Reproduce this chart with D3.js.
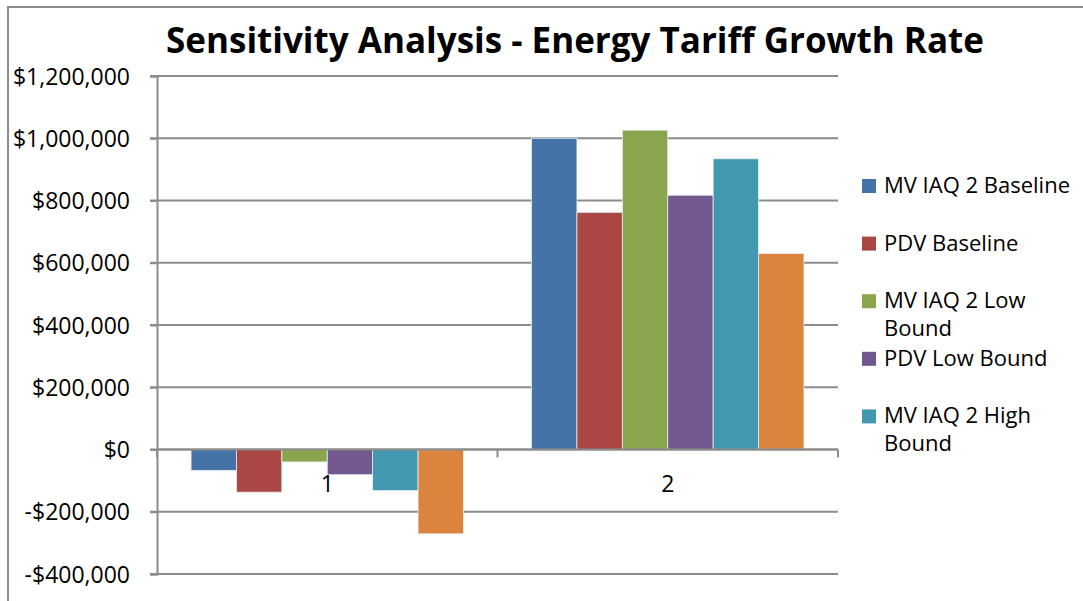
<!DOCTYPE html>
<html>
<head>
<meta charset="utf-8">
<script src="https://cdn.jsdelivr.net/npm/d3@7"></script>
<style>
  body { margin: 0; background: #fff; }
  text { font-family: "Open Sans", "Noto Sans", sans-serif; fill: #000; }
</style>
</head>
<body>
<div id="chart"></div>
<script>
// Data
const categories = ["1", "2"];
const seriesNames = ["MV IAQ 2 Baseline", "PDV Baseline", "MV IAQ 2 Low Bound", "PDV Low Bound", "MV IAQ 2 High Bound", "PDV High Bound"];
const cat1Values = [-67000, -137000, -40000, -81000, -132000, -271000];
const cat2Values = [1000000, 762000, 1026000, 817000, 934000, 630000];
const yTicks = [-400000, -200000, 0, 200000, 400000, 600000, 800000, 1000000, 1200000];
const colors = ["#4572A7", "#AA4643", "#89A54E", "#71588F", "#4198AF", "#DB843D"];

const W = 1083, H = 601;
const plot = {left: 157, right: 838, top: 76, bottom: 574};

const svg = d3.select("#chart").append("svg")
  .attr("width", W).attr("height", H);

// chart border (clipped on right/bottom like the original)
svg.append("rect")
  .attr("x", 8).attr("y", 7)
  .attr("width", W + 20).attr("height", H + 20)
  .attr("fill", "none").attr("stroke", "#8c8c8c").attr("stroke-width", 2);

// title
svg.append("text")
  .attr("x", 575).attr("y", 53)
  .attr("text-anchor", "middle")
  .style("font-size", "35px").style("font-weight", "bold")
  .text("Sensitivity Analysis - Energy Tariff Growth Rate");

const y = d3.scaleLinear()
  .domain([d3.min(yTicks), d3.max(yTicks)])
  .range([plot.bottom, plot.top]);

const x0 = d3.scaleBand()
  .domain(categories)
  .range([plot.left, plot.right]);

// Excel gap width 150% -> outer padding of 0.75 bar on each side
const barW = x0.bandwidth() / (seriesNames.length + 1.5);
const x1 = d3.scaleBand()
  .domain(seriesNames)
  .range([0.75 * barW, 0.75 * barW + barW * seriesNames.length]);

// gridlines
svg.append("g")
  .selectAll("line")
  .data(yTicks)
  .join("line")
  .attr("x1", plot.left - 7).attr("x2", plot.right)
  .attr("y1", d => y(d)).attr("y2", d => y(d))
  .attr("stroke", "#8c8c8c").attr("stroke-width", 2);

// y axis
const yAxis = svg.append("g")
  .attr("transform", `translate(${plot.left},0)`)
  .call(d3.axisLeft(y).tickValues(yTicks).tickSize(7).tickPadding(20)
    .tickFormat(d => (d < 0 ? "-$" : "$") + d3.format(",")(Math.abs(d))));
yAxis.select(".domain").attr("stroke", "#8c8c8c").attr("stroke-width", 2);
yAxis.selectAll(".tick line").attr("stroke", "#8c8c8c").attr("stroke-width", 2);
yAxis.selectAll(".tick text")
  .style("font-size", "23px").attr("dy", "0.35em")
  .style("font-family", "'Open Sans', sans-serif").attr("fill", "#000");

// bars
const data = categories.map((c, i) => ({
  cat: c,
  values: seriesNames.map((s, j) => ({name: s, value: [cat1Values, cat2Values][i][j], color: colors[j]}))
}));

svg.append("g")
  .selectAll("g")
  .data(data)
  .join("g")
  .attr("transform", d => `translate(${x0(d.cat)},0)`)
  .selectAll("rect")
  .data(d => d.values)
  .join("rect")
  .attr("x", d => x1(d.name))
  .attr("width", x1.bandwidth())
  .attr("y", d => y(Math.max(0, d.value)))
  .attr("height", d => Math.abs(y(d.value) - y(0)))
  .attr("fill", d => d.color)
  .attr("stroke", "#e8eef4").attr("stroke-width", 0.8);

// category axis at zero
const xAxis = svg.append("g")
  .attr("transform", `translate(0,${y(0)})`);
xAxis.append("line")
  .attr("x1", plot.left).attr("x2", plot.right)
  .attr("stroke", "#8c8c8c").attr("stroke-width", 2);
xAxis.selectAll(".ctick")
  .data(categories.map(c => x0(c)).concat([plot.right]))
  .join("line")
  .attr("class", "ctick")
  .attr("x1", d => d).attr("x2", d => d)
  .attr("y1", 0).attr("y2", 8)
  .attr("stroke", "#8c8c8c").attr("stroke-width", 2);
xAxis.selectAll(".clabel")
  .data(categories)
  .join("text")
  .attr("x", d => x0(d) + x0.bandwidth() / 2)
  .attr("y", 42)
  .attr("text-anchor", "middle")
  .style("font-size", "23px")
  .text(d => d);

// legend (only the entries that fit are shown, as in the original)
const legendItems = seriesNames.slice(0, 5);
const legend = svg.append("g").attr("transform", "translate(862,186)");
const item = legend.selectAll("g")
  .data(legendItems)
  .join("g")
  .attr("transform", (d, i) => `translate(0,${i * 57.6})`);
item.append("rect")
  .attr("x", 0).attr("y", -7).attr("width", 14).attr("height", 14)
  .attr("fill", (d, i) => colors[i]);
item.append("text")
  .attr("x", 22).attr("y", 0)
  .style("font-size", "22px")
  .text(d => d)
  .call(wrap, 200);

function wrap(text, width) {
  text.each(function() {
    let t = d3.select(this),
      words = t.text().split(/\s+/).reverse(),
      word, line = [],
      xx = t.attr("x"),
      tspan = t.text(null).append("tspan").attr("x", xx).attr("dy", "0.32em");
    while (word = words.pop()) {
      line.push(word);
      tspan.text(line.join(" "));
      if (tspan.node().getComputedTextLength() > width && line.length > 1) {
        line.pop();
        tspan.text(line.join(" "));
        line = [word];
        tspan = t.append("tspan").attr("x", xx).attr("dy", "28px").text(word);
      }
    }
  });
}
</script>
</body>
</html>
